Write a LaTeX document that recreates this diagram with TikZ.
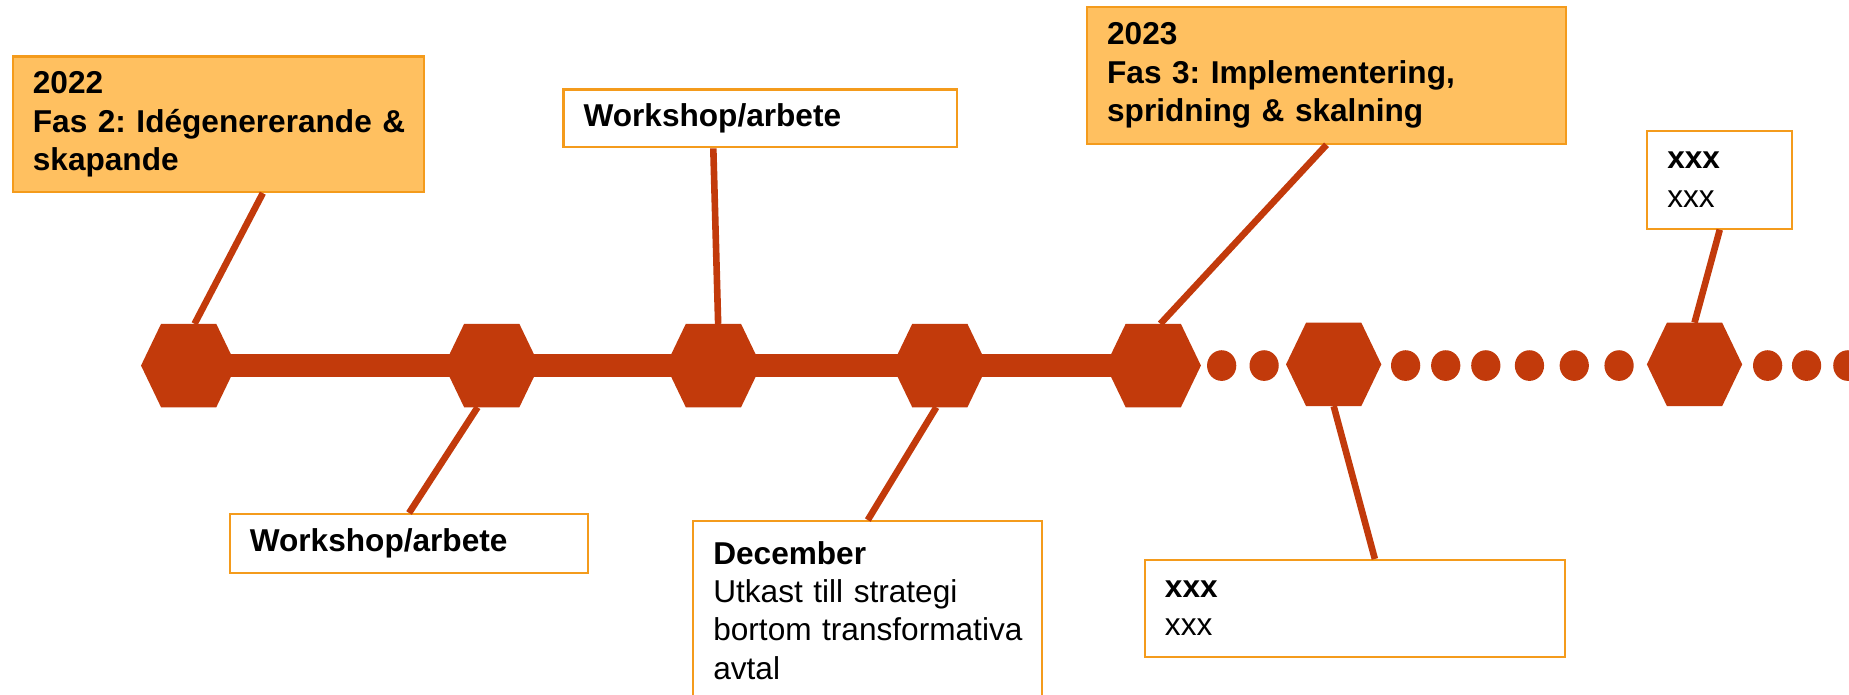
\documentclass[tikz,border=0pt]{standalone}
\usepackage{fontspec}
\setmainfont{Liberation Sans}
\definecolor{tlred}{RGB}{194,58,11}
\definecolor{fasfill}{RGB}{255,192,96}
\definecolor{fasline}{RGB}{244,155,28}
\begin{document}
\frenchspacing
\begin{tikzpicture}[x=0.5pt,y=-0.5pt,
                    hex/.style={minimum width=40pt,minimum height=35pt,inner sep=0pt},
                    box/.style={draw=fasline,line width=0.9pt,anchor=north west,align=left,
                                inner xsep=8.5pt,inner ysep=0pt,
                                font=\fontsize{13.4}{16.3}\selectfont},
                    fas/.style={box,fill=fasfill,font=\fontsize{13.4}{16.3}\selectfont\bfseries},
                    link/.style={draw=tlred,line width=2.8pt},
                    bar/.style={draw=tlred,line width=10pt}]

  \useasboundingbox (0,0) rectangle (1568,589);

  \node[hex] (A) at (160,310)  {};
  \node[hex] (B) at (417,310)  {};
  \node[hex] (C) at (605,310)  {};
  \node[hex] (D) at (797,310)  {};
  \node[hex] (E) at (978,310)  {};
  \node[hex] (F) at (1131,309) {};
  \node[hex] (G) at (1437,309) {};

  \node[fas, minimum width=174.5pt, minimum height=57.5pt, text width=157.5pt] (a) at (10,47)
        {2022\\\mbox{Fas 2: Idégenererande \&}\\skapande};
  \node[box, minimum width=152pt, minimum height=25pt, text width=135pt] (b) at (194,435)
        {\textbf{Workshop/arbete}};
  \node[box, minimum width=167pt, minimum height=24.5pt, text width=150pt] (c) at (477,75)
        {\textbf{Workshop/arbete}};
  \node[box, minimum width=148pt, text width=131pt, inner ysep=8.5pt] (d) at (587,441)
        {\textbf{December}\\Utkast till strategi\\\mbox{bortom transformativa}\\avtal};
  \node[fas, minimum width=203pt, minimum height=58pt, text width=186pt] (e) at (921,5)
        {2023\\\mbox{Fas 3: Implementering,}\\\mbox{spridning \& skalning}};
  \node[box, minimum width=178pt, minimum height=41pt, text width=161pt] (f) at (970,474)
        {\textbf{xxx}\\xxx};
  \node[box, minimum width=61.5pt, minimum height=41.5pt, text width=44.5pt] (g) at (1396,110)
        {\textbf{xxx}\\xxx};

  \draw[link] ([xshift=18.75pt]a.south) -- ([xshift=2.5pt]A.north)
              ([xshift=-6pt]B.south)    -- (b.north)
              ([xshift=-20pt]c.south)   -- ([xshift=2pt]C.north)
              ([xshift=-1.5pt]D.south)  -- (d.north)
              (e.south)                 -- ([xshift=3pt]E.north)
              (F.south)                 -- ([xshift=8.5pt]f.north)
              (g.south)                 -- (G.north);

  \draw[bar] (A.center) -- (E.center);

  \foreach \x in {1036,1072,1192,1226,1260,1297,1335,1373,1499,1532,1567}
    \fill[tlred] (\x,310) ellipse (6.2pt and 6.5pt);

  \foreach \n in {A,...,G}
    \fill[tlred] (\n.west) -- ([xshift=8.5pt]\n.north west) -- ([xshift=-8.5pt]\n.north east)
                 -- (\n.east) -- ([xshift=-8.5pt]\n.south east) -- ([xshift=8.5pt]\n.south west) -- cycle;
\end{tikzpicture}
\end{document}
